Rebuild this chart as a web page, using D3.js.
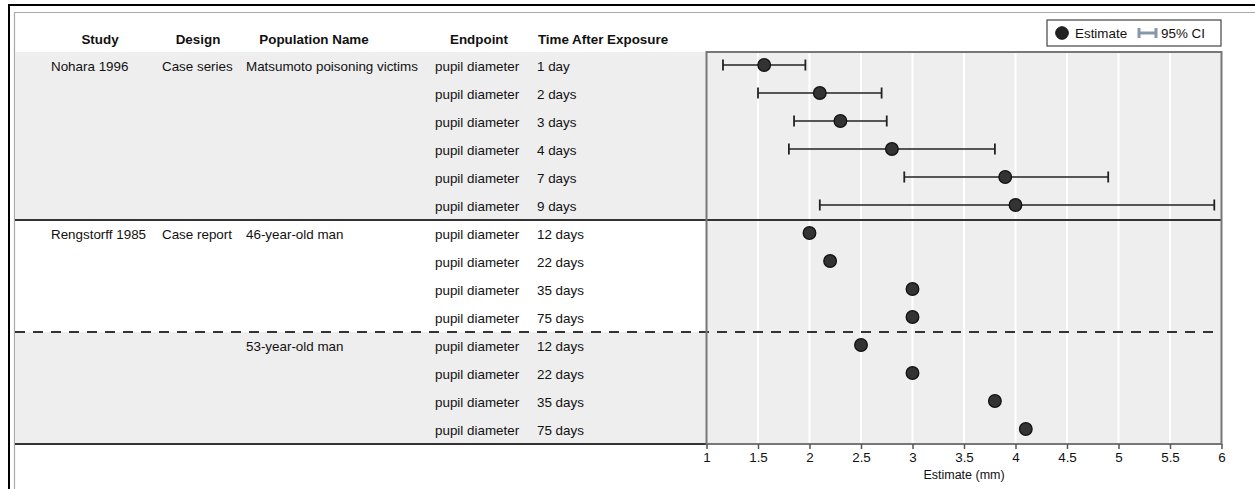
<!DOCTYPE html>
<html>
<head>
<meta charset="utf-8">
<script src="https://cdn.jsdelivr.net/npm/d3@7"></script>
<style>
  body { margin: 0; background: #fff; }
  text { font-family: "Liberation Sans", Arial, sans-serif; fill: #111; }
</style>
</head>
<body>
<div id="root"></div>
<script>
// values
var headers = ['Study', 'Design', 'Population Name', 'Endpoint', 'Time After Exposure'];
var studyCol = ['Nohara 1996', '', '', '', '', '', 'Rengstorff 1985', '', '', '', '', '', '', ''];
var designCol = ['Case series', '', '', '', '', '', 'Case report', '', '', '', '', '', '', ''];
var populationCol = ['Matsumoto poisoning victims', '', '', '', '', '', '46-year-old man', '', '', '', '53-year-old man', '', '', ''];
var endpointCol = d3.range(14).map(function() { return 'pupil diameter'; });
var timeCol = ['1 day', '2 days', '3 days', '4 days', '7 days', '9 days',
  '12 days', '22 days', '35 days', '75 days', '12 days', '22 days', '35 days', '75 days'];
var estimates = [1.56, 2.1, 2.3, 2.8, 3.9, 4.0, 2.0, 2.2, 3.0, 3.0, 2.5, 3.0, 3.8, 4.1];
var ciLow = [1.16, 1.5, 1.85, 1.8, 2.92, 2.1, null, null, null, null, null, null, null, null];
var ciHigh = [1.96, 2.7, 2.75, 3.8, 4.9, 5.93, null, null, null, null, null, null, null, null];
// row groups: [first row, last row, shaded]
var bands = [[0, 5, true], [6, 9, false], [10, 13, true]];
var xTicks = [1, 1.5, 2, 2.5, 3, 3.5, 4, 4.5, 5, 5.5, 6];

var width = 1255;
var height = 489;
var fs = 13.4;

var rows = d3.range(timeCol.length);

var svg = d3.select('#root')
  .append('svg')
    .attr('width', width)
    .attr('height', height);

var y = d3.scaleBand().domain(rows).range([52, 444]);
var x = d3.scaleLinear().domain([1, 6]).range([706.5, 1221.5]);

// outer frame
svg.append('line').attr('x1', 8).attr('x2', width).attr('y1', 5).attr('y2', 5)
  .attr('stroke', '#000').attr('stroke-width', 2);
svg.append('line').attr('x1', 9).attr('x2', 9).attr('y1', 4).attr('y2', height)
  .attr('stroke', '#000').attr('stroke-width', 2);
svg.append('line').attr('x1', 14).attr('x2', width).attr('y1', 12.5).attr('y2', 12.5)
  .attr('stroke', '#aaa').attr('stroke-width', 1.2);
svg.append('line').attr('x1', 14.5).attr('x2', 14.5).attr('y1', 12).attr('y2', height)
  .attr('stroke', '#aaa').attr('stroke-width', 1.2);

// shaded row groups
svg.selectAll('rect.band')
  .data(bands.filter(function(b) { return b[2]; }))
  .enter()
  .append('rect')
    .attr('class', 'band')
    .attr('x', 15)
    .attr('y', function(b) { return y(b[0]); })
    .attr('width', x(1) - 15)
    .attr('height', function(b) { return y(b[1]) + y.bandwidth() - y(b[0]); })
    .style('fill', '#eeeeee');

// plot background and grid
svg.append('rect')
  .attr('x', x(1)).attr('y', y(0))
  .attr('width', x(6) - x(1)).attr('height', 444 - y(0))
  .style('fill', '#eeeeee');

svg.selectAll('line.grid')
  .data(xTicks.slice(1, -1))
  .enter()
  .append('line')
    .attr('class', 'grid')
    .attr('x1', function(d) { return x(d); })
    .attr('x2', function(d) { return x(d); })
    .attr('y1', y(0))
    .attr('y2', 444)
    .attr('stroke', '#fff')
    .attr('stroke-width', 2);

// group separators
var sepSolid = y(bands[1][0]);
var sepDash = y(bands[2][0]);
svg.append('line').attr('x1', 15).attr('x2', x(6)).attr('y1', sepSolid).attr('y2', sepSolid)
  .attr('stroke', '#333').attr('stroke-width', 2);
svg.append('line').attr('x1', 15).attr('x2', x(6)).attr('y1', sepDash).attr('y2', sepDash)
  .attr('stroke', '#333').attr('stroke-width', 2).attr('stroke-dasharray', '10,8');
svg.append('line').attr('x1', 15).attr('x2', x(1)).attr('y1', 444).attr('y2', 444)
  .attr('stroke', '#333').attr('stroke-width', 2);

// plot border
svg.append('rect')
  .attr('x', x(1)).attr('y', y(0))
  .attr('width', x(6) - x(1)).attr('height', 444 - y(0))
  .style('fill', 'none')
  .attr('stroke', '#777')
  .attr('stroke-width', 2);

// axis
var axis = svg.append('g')
  .attr('transform', 'translate(0,444)')
  .call(d3.axisBottom(x).tickValues(xTicks).tickSize(5).tickSizeOuter(0)
    .tickFormat(function(d) { return String(d); }));
axis.select('.domain').remove();
axis.selectAll('.tick line').attr('stroke', '#555').attr('stroke-width', 1.5);
axis.selectAll('.tick text')
  .attr('dy', null).attr('y', 18)
  .style('font-family', '"Liberation Sans", Arial, sans-serif')
  .style('font-size', fs + 'px')
  .style('fill', '#111');

svg.append('text')
  .attr('x', (x(1) + x(6)) / 2)
  .attr('y', 479)
  .attr('text-anchor', 'middle')
  .style('font-size', '12.5px')
  .text('Estimate (mm)');

// confidence intervals
var withCI = rows.filter(function(i) { return ciLow[i] != null; });
var cy = function(i) { return y(i) + y.bandwidth() / 2 - 1; };

svg.selectAll('line.ci')
  .data(withCI)
  .enter()
  .append('line')
    .attr('class', 'ci')
    .attr('x1', function(i) { return x(ciLow[i]); })
    .attr('x2', function(i) { return x(ciHigh[i]); })
    .attr('y1', cy)
    .attr('y2', cy)
    .attr('stroke', '#222')
    .attr('stroke-width', 1.5);

['lo', 'hi'].forEach(function(end) {
  svg.selectAll('line.cap-' + end)
    .data(withCI)
    .enter()
    .append('line')
      .attr('class', 'cap-' + end)
      .attr('x1', function(i) { return x(end === 'lo' ? ciLow[i] : ciHigh[i]); })
      .attr('x2', function(i) { return x(end === 'lo' ? ciLow[i] : ciHigh[i]); })
      .attr('y1', function(i) { return cy(i) - 5.5; })
      .attr('y2', function(i) { return cy(i) + 5.5; })
      .attr('stroke', '#222')
      .attr('stroke-width', 1.8);
});

// estimates
svg.selectAll('circle.est')
  .data(rows)
  .enter()
  .append('circle')
    .attr('class', 'est')
    .attr('cx', function(i) { return x(estimates[i]); })
    .attr('cy', cy)
    .attr('r', 6.3)
    .style('fill', '#333')
    .attr('stroke', '#111')
    .attr('stroke-width', 1.3);

// table header
var headerX = [100, 198, 314, 479, 603];
svg.selectAll('text.head')
  .data(headers)
  .enter()
  .append('text')
    .attr('class', 'head')
    .attr('x', function(d, i) { return headerX[i]; })
    .attr('y', 44)
    .attr('text-anchor', 'middle')
    .style('font-weight', 'bold')
    .style('font-size', fs + 'px')
    .text(function(d) { return d; });

// table cells
var columns = [studyCol, designCol, populationCol, endpointCol, timeCol];
var colX = [51, 162, 246, 435, 537];
columns.forEach(function(col, c) {
  svg.selectAll('text.col' + c)
    .data(rows)
    .enter()
    .append('text')
      .attr('class', 'col' + c)
      .attr('x', colX[c])
      .attr('y', function(i) { return y(i) + y.bandwidth() / 2 + 4.5; })
      .style('font-size', fs + 'px')
      .text(function(i) { return col[i]; });
});

// legend
var legend = svg.append('g').attr('transform', 'translate(1047,20)');
legend.append('rect')
  .attr('width', 174).attr('height', 26)
  .style('fill', '#fff')
  .attr('stroke', '#444').attr('stroke-width', 1.2);
legend.append('circle')
  .attr('cx', 15).attr('cy', 13).attr('r', 6.3)
  .style('fill', '#222').attr('stroke', '#111');
legend.append('text')
  .attr('x', 28).attr('y', 17.5)
  .style('font-size', fs + 'px')
  .text('Estimate');
legend.append('path')
  .attr('d', 'M92,8V18M92,13H109M109,8V18')
  .attr('fill', 'none')
  .attr('stroke', '#8797aa')
  .attr('stroke-width', 3);
legend.append('text')
  .attr('x', 114).attr('y', 17.5)
  .style('font-size', fs + 'px')
  .text('95% CI');
</script>
</body>
</html>
